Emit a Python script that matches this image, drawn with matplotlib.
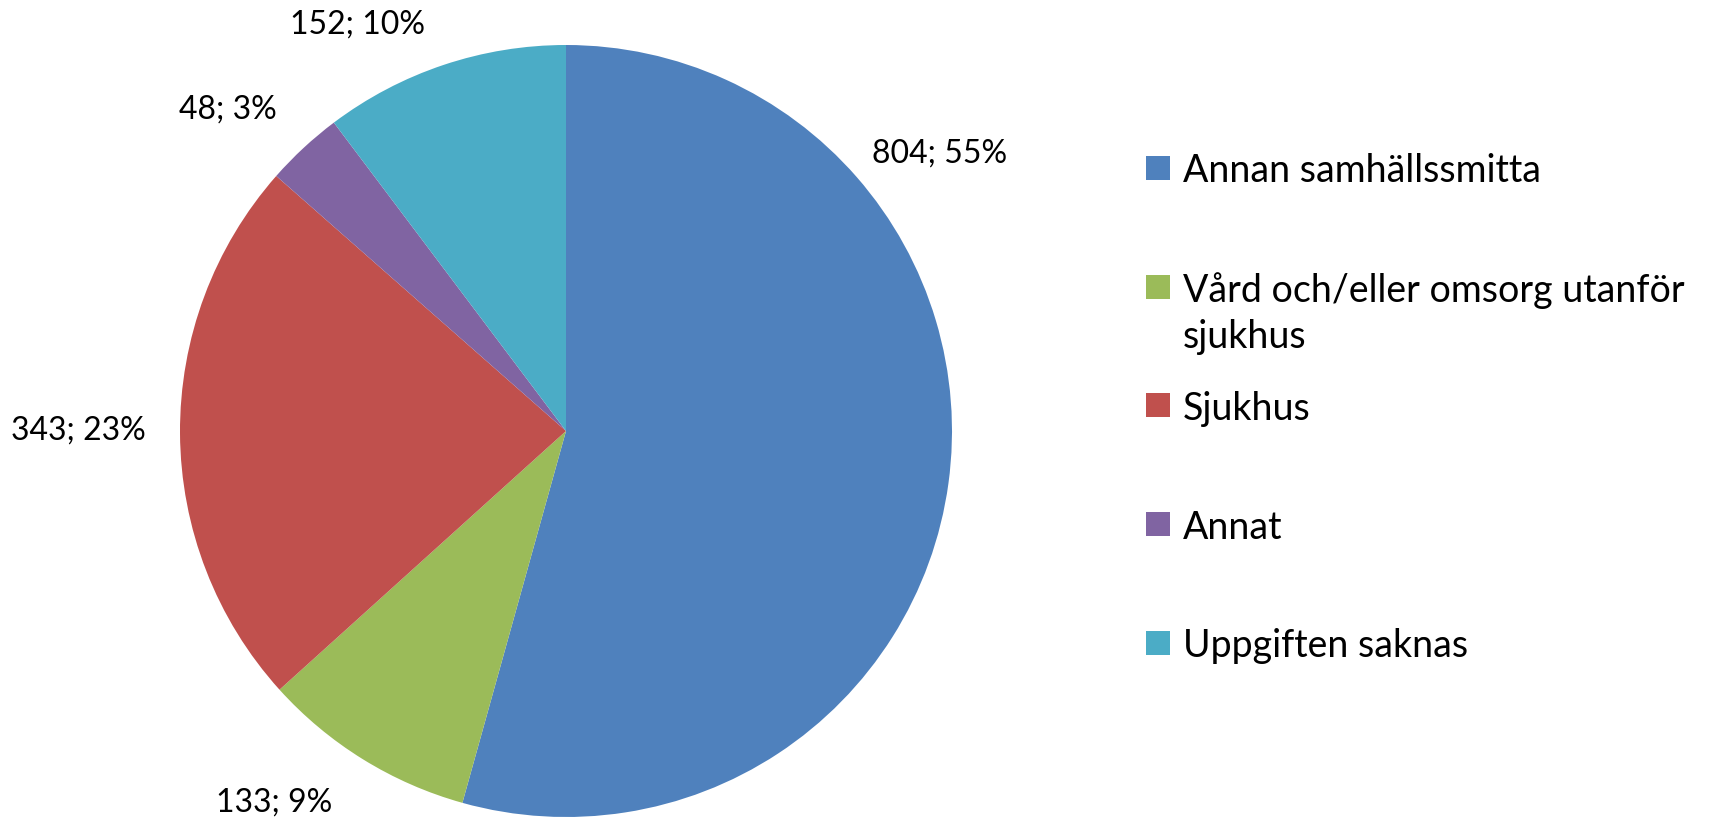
import matplotlib
matplotlib.use("Agg")
import matplotlib.pyplot as plt
from matplotlib.patches import Rectangle

categories = ["Annan samhällssmitta", "Vård och/eller omsorg utanför\nsjukhus",
              "Sjukhus", "Annat", "Uppgiften saknas"]
values = [804, 133, 343, 48, 152]
percent_labels = ["55%", "9%", "23%", "3%", "10%"]
colors = ["#4F81BD", "#9BBB59", "#C0504D", "#8064A2", "#4BACC6"]
# label anchor positions in pie-radius units
label_pos = [(0.969, 0.718), (-0.755, -0.963), (-1.262, 0.0), (-0.875, 0.832), (-0.541, 1.054)]

plt.rcParams['font.family'] = ['Lato', 'DejaVu Sans']

W, H = 1723, 819
fig = plt.figure(figsize=(W / 100, H / 100), dpi=100)
cx, cy, r = 566, 819 - 431, 386
ax = fig.add_axes([(cx - r) / W, (cy - r) / H, 2 * r / W, 2 * r / H])
wedges, _ = ax.pie(values, colors=colors, startangle=90, counterclock=False,
                   radius=1, wedgeprops=dict(linewidth=0))
ax.set_xlim(-1, 1)
ax.set_ylim(-1, 1)
ax.set_aspect('equal')
ax.axis('off')

for v, p, (x, y) in zip(values, percent_labels, label_pos):
    ax.text(x, y, f"{v}; {p}", ha='center', va='center', fontsize=23, color='black',
            clip_on=False)

# manual legend (Excel-style: uniform row step, second line hangs below)
sq = 24
x_sq = 1146
x_txt = 1183
y0 = 168
step = 118.7
line_h = 47
for i, (lab, c) in enumerate(zip(categories, colors)):
    yc = y0 + i * step
    fig.patches.append(Rectangle((x_sq / W, 1 - (yc + sq / 2) / H), sq / W, sq / H,
                                 transform=fig.transFigure, facecolor=c, edgecolor='none'))
    for k, line in enumerate(lab.split("\n")):
        fig.text(x_txt / W, 1 - (yc + k * line_h) / H, line, ha='left',
                 va='center_baseline', fontsize=27, color='black')

fig.savefig("out.png", dpi=100)
